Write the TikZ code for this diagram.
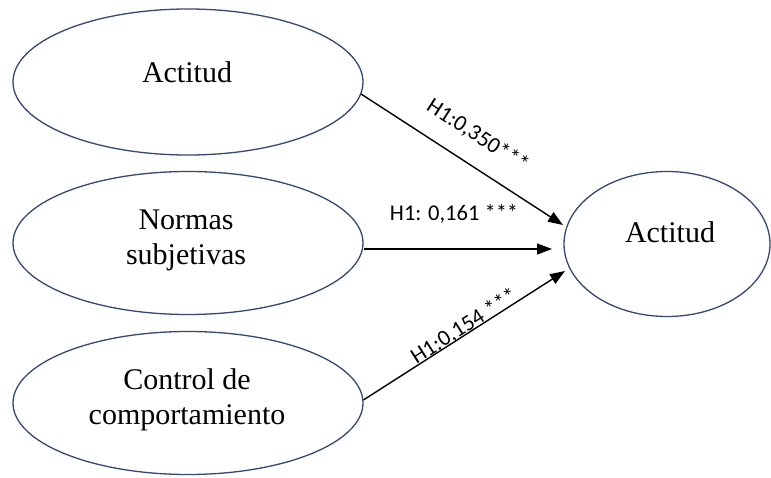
\documentclass[tikz,border=0pt]{standalone}
\usepackage{fontspec}
\setmainfont{Liberation Serif}
\newfontfamily\lblfont{Carlito}
\usetikzlibrary{shapes.geometric,arrows.meta}
\definecolor{ellblue}{RGB}{52,72,112}
\tikzset{
  construct/.style={ellipse, draw=ellblue, line width=1.3pt, inner sep=0pt},
  ctext/.style={font=\fontsize{30}{35}\selectfont, align=center, inner sep=0pt},
  arr/.style={draw=black, line width=1.4pt, -{Triangle[length=15pt,width=11pt]}},
  lbl/.style={font=\lblfont\fontsize{22.5}{24}\selectfont, inner sep=0pt, anchor=base, sloped}
}
\begin{document}
\begin{tikzpicture}[x=1pt,y=-1pt]
\useasboundingbox (0,0) rectangle (771,478);
% ellipses
\node[construct, minimum width=350pt, minimum height=146pt] (a1) at (188,82) {};
\node[construct, minimum width=350pt, minimum height=143pt] (a2) at (188,243) {};
\node[construct, minimum width=350pt, minimum height=143pt] (a3) at (188,403) {};
\node[construct, minimum width=206pt, minimum height=145pt] (b) at (667,244) {};
% texts
\node[ctext] (t1) at (187,72) {Actitud};
\node[ctext] (t2) at (186,240) {Normas\\subjetivas};
\node[ctext] (t3) at (187,400) {Control de\\comportamiento};
\node[ctext] (tb) at (670,232) {Actitud};
% arrow tips
\coordinate (e1) at (563,225);
\coordinate (e2) at (552,249);
\coordinate (e3) at (565,271);
% connectors
\draw[arr] (a1.-4) -- node[lbl, pos=0.5, yshift=22pt] {H1:0,350***} (e1);
\draw[arr] (a2.east |- e2) -- node[lbl, pos=0.48, yshift=28pt] {H1: 0,161 ***} (e2);
\draw[arr] (a3.1) -- node[lbl, pos=0.52, yshift=1pt] {H1:0,154 ***} (e3);
\end{tikzpicture}
\end{document}
